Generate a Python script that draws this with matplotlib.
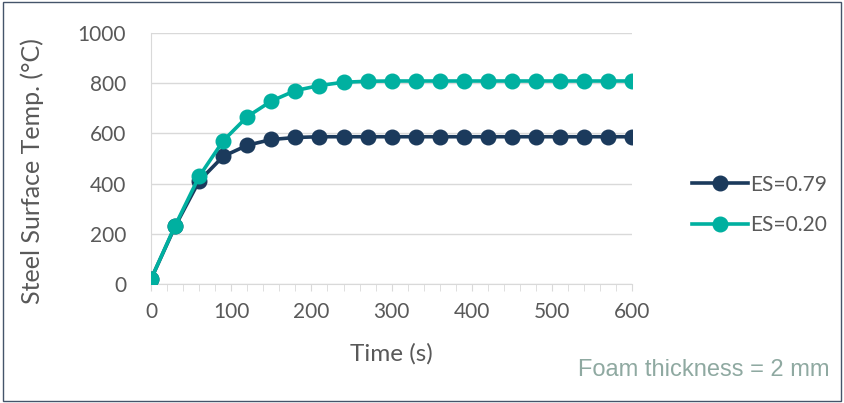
import matplotlib.pyplot as plt
from matplotlib.patches import Rectangle
from matplotlib.ticker import MultipleLocator

time_s = [0, 30, 60, 90, 120, 150, 180, 210, 240, 270, 300,
          330, 360, 390, 420, 450, 480, 510, 540, 570, 600]
temp_es079 = [20, 230, 411, 509, 553, 576, 584, 587, 587, 587, 587,
              587, 587, 587, 587, 587, 587, 587, 587, 587, 587]
temp_es020 = [20, 233, 429, 571, 667, 729, 771, 791, 804, 808, 809,
              809, 809, 809, 809, 809, 809, 809, 809, 809, 809]
series_labels = ['ES=0.79', 'ES=0.20']

plt.rcParams['font.family'] = ['Lato', 'DejaVu Sans']

fig = plt.figure(figsize=(8.44, 4.03), dpi=100)
ax = fig.add_axes([0.179, 0.295, 0.570, 0.623])

ax.plot(time_s, temp_es079, color='#1B3A5C', lw=2.6, marker='o',
        markersize=10.5, label=series_labels[0], zorder=3)
ax.plot(time_s, temp_es020, color='#00B0A0', lw=2.6, marker='o',
        markersize=10.5, label=series_labels[1], zorder=4)

ax.set_xlim(0, 600)
ax.set_ylim(0, 1000)
ax.xaxis.set_major_locator(MultipleLocator(100))
ax.xaxis.set_minor_locator(MultipleLocator(20))
ax.yaxis.set_major_locator(MultipleLocator(200))
ax.grid(axis='y', color='#D9D9D9', lw=1)
ax.set_axisbelow(True)
for s in ['top', 'right']:
    ax.spines[s].set_visible(False)
ax.spines['left'].set_color('#D9D9D9')
ax.spines['bottom'].set_color('#D9D9D9')
ax.tick_params(axis='x', which='both', color='#D9D9D9', length=5,
               labelsize=15, labelcolor='#595959', pad=8)
ax.tick_params(axis='y', length=0, labelsize=15, labelcolor='#595959', pad=18)

ax.set_xlabel('Time (s)', fontsize=17.5, color='#595959', labelpad=15)
ax.set_ylabel('Steel Surface Temp. (°C)', fontsize=18, color='#595959')
ax.yaxis.set_label_coords(-0.222, 0.45)

ax.legend(loc='center left', bbox_to_anchor=(1.085, 0.315), frameon=False,
          fontsize=15, labelcolor='#595959', handlelength=2.7,
          handletextpad=0.1, labelspacing=1.0)

fig.text(0.983, 0.082, 'Foam thickness = 2 mm', fontsize=17, color='#8FA9A1',
         ha='right', va='center', family='Liberation Sans')

fig.patches.append(Rectangle((0.004, 0.006), 0.992, 0.988, transform=fig.transFigure,
                             fill=False, edgecolor='#44546A', lw=1))

fig.savefig('out.png', dpi=100)
